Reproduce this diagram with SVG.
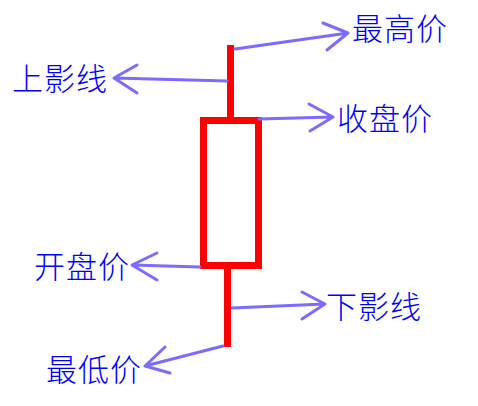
<svg xmlns="http://www.w3.org/2000/svg" width="478" height="406" viewBox="0 0 478 406">
<style>
.lbl{font-family:"Noto Sans CJK SC","Noto Sans",sans-serif;font-size:31px;letter-spacing:1px;fill:#0000ff;font-weight:300;}
.arr{fill:none;stroke:#7b6cff;stroke-width:3;stroke-linecap:round;stroke-linejoin:round;}
.red{fill:none;stroke:#ff0000;stroke-width:7;}
</style>
<rect width="478" height="406" fill="#ffffff"/>
<g id="candle">
<line class="red" x1="230.5" y1="45" x2="230.5" y2="118"/>
<line class="red" x1="227.5" y1="268" x2="227.5" y2="347"/>
<rect class="red" x="203.5" y="120.5" width="55" height="145"/>
</g>
<g id="connectors">
<path class="arr" d="M235 49 L348 33 M323 23 L348 33 L327 50"/>
<path class="arr" d="M227 81 L114 78 M137 65 L114 78 L137 93"/>
<path class="arr" d="M259 119 L333 117 M309 104 L333 117 L310 131"/>
<path class="arr" d="M200 267 L132 265 M157 253 L132 265 L157 280"/>
<path class="arr" d="M232 308 L325 304 M302 292 L325 304 L302 319"/>
<path class="arr" d="M223 346 L145 366 M165 347 L145 366 L170 373"/>
</g>
<g id="n-high"><text class="lbl" x="352" y="40">最高价</text></g>
<g id="n-upper"><text class="lbl" x="12" y="90">上影线</text></g>
<g id="n-close"><text class="lbl" x="337" y="130">收盘价</text></g>
<g id="n-open"><text class="lbl" x="34" y="278">开盘价</text></g>
<g id="n-lower"><text class="lbl" x="326" y="318">下影线</text></g>
<g id="n-low"><text class="lbl" x="46" y="381">最低价</text></g>
</svg>
